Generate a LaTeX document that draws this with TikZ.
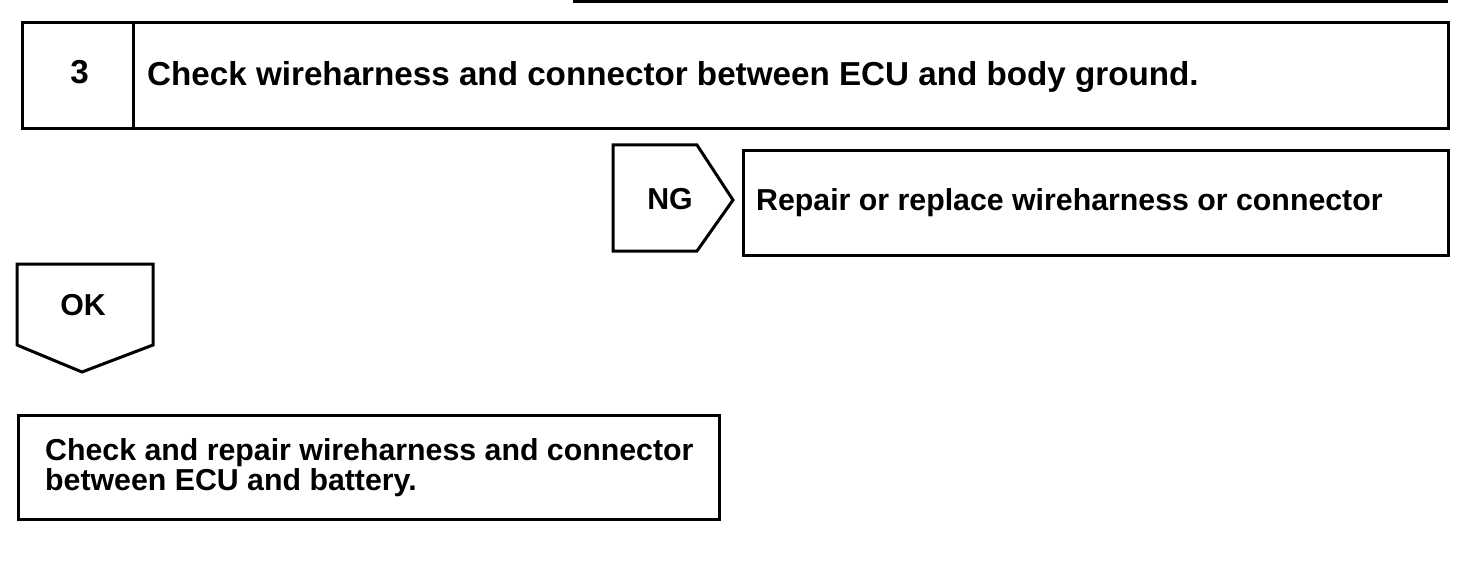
\documentclass[tikz,border=0pt]{standalone}
\usepackage{fontspec}
\setmainfont{Liberation Sans}
\begin{document}
\begin{tikzpicture}[x=1pt,y=-1pt,
  frame/.style={draw=black,line width=3pt,inner sep=0pt,anchor=north west},
  bigtxt/.style={font=\fontsize{33.2}{33}\selectfont\bfseries,inner sep=0pt},
  midtxt/.style={font=\fontsize{30.3}{28}\selectfont\bfseries,inner sep=0pt},
  flag/.style={draw=black,line width=3pt,line join=miter}]
\useasboundingbox (0,0) rectangle (1472,564);
% rule at the top
\coordinate (ruleL) at (573,2);
\coordinate (ruleR) at (1448,2);
\draw[line width=3pt] (ruleL) -- (ruleR);
% step box
\node[frame,minimum width=1426pt,minimum height=106pt] (step) at (21,21) {};
\coordinate (divT) at (133,21);
\coordinate (divB) at (133,127);
\draw[line width=3pt] (divT) -- (divB);
\node[bigtxt,anchor=base] (num) at (79.5,84) {3};
\node[bigtxt,anchor=base west] (title) at (147,86) {Check wireharness and connector between ECU and body ground.};
% NG flag
\draw[flag] (613,145) -- (697,145) -- (733,200) -- (697,251) -- (613,251) -- cycle;
\node[midtxt,anchor=base] (ng) at (670,210) {NG};
% NG result box
\node[frame,minimum width=705pt,minimum height=105pt] (ngbox) at (742,149) {};
\node[midtxt,anchor=base west] (ngtext) at (756,211) {Repair or replace wireharness or connector};
% OK flag
\draw[flag] (17,264) -- (153,264) -- (153,345) -- (82,372) -- (17,345) -- cycle;
\node[midtxt,anchor=base] (ok) at (83,315) {OK};
% OK result box
\node[frame,minimum width=701pt,minimum height=104pt] (okbox) at (17,414) {};
\node[midtxt,anchor=base west,align=left] (oktext) at (45,490) {Check and repair wireharness and connector\\between ECU and battery.};
\end{tikzpicture}
\end{document}
